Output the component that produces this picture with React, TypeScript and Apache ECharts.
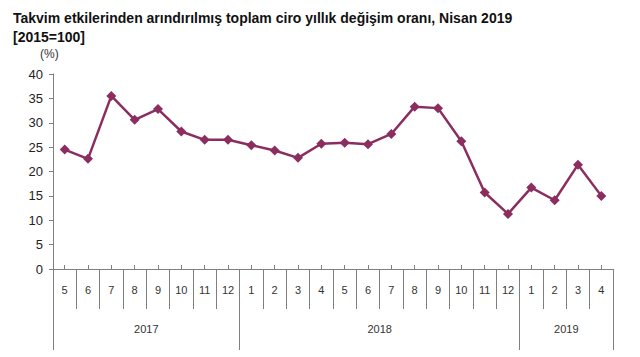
import React, { useEffect, useRef } from "react";
import * as echarts from "echarts";

const titleText = "Takvim etkilerinden arındırılmış toplam ciro yıllık değişim oranı, Nisan 2019";
const subtitleText = "[2015=100]";
const unitText = "(%)";

const months = ["5","6","7","8","9","10","11","12","1","2","3","4","5","6","7","8","9","10","11","12","1","2","3","4"];
const values = [24.5, 22.6, 35.5, 30.6, 32.8, 28.2, 26.5, 26.5, 25.4, 24.3, 22.8, 25.7, 25.9, 25.6, 27.7, 33.3, 33.0, 26.2, 15.7, 11.3, 16.7, 14.1, 21.4, 15.0];
const years = ["2017", "2018", "2019"];
const yearMonthCounts = [8, 12, 4];

const FONT = "'Liberation Sans', Arial, sans-serif";
const AXIS_COLOR = "#7f7f7f";
const LINE_COLOR = "#8C2D60";

export default function App() {
  const ref = useRef<HTMLDivElement>(null);

  useEffect(() => {
    if (!ref.current) return;
    const chart = echarts.init(ref.current, null, { renderer: "svg" });

    const boundaries: number[] = [0];
    const mids: number[] = [];
    let acc = 0;
    yearMonthCounts.forEach((c) => {
      mids.push(acc + c / 2);
      acc += c;
      boundaries.push(acc);
    });
    const total = acc;

    chart.setOption({
      animation: false,
      backgroundColor: "#ffffff",
      title: [
        {
          text: titleText + "\n" + subtitleText,
          left: 8,
          top: 3,
          textStyle: { fontFamily: FONT, fontSize: 14, fontWeight: "bold", color: "#111", lineHeight: 19 },
        },
        {
          text: unitText,
          left: 35,
          top: 43,
          textStyle: { fontFamily: FONT, fontSize: 12, fontWeight: "normal", color: "#333" },
        },
      ],
      grid: { left: 53, right: 27, top: 74, bottom: 88, containLabel: false },
      xAxis: [
        {
          type: "category",
          data: months,
          boundaryGap: true,
          position: "bottom",
          axisLine: { show: true, lineStyle: { color: AXIS_COLOR, width: 1 } },
          axisTick: { show: true, inside: true, alignWithLabel: true, length: 4, lineStyle: { color: AXIS_COLOR } },
          axisLabel: { show: true, interval: 0, margin: 15, fontFamily: FONT, fontSize: 11, color: "#333" },
          splitLine: { show: false },
        },
        {
          type: "category",
          data: months,
          boundaryGap: true,
          position: "bottom",
          axisLine: { show: false },
          axisTick: { show: true, inside: false, interval: 0, length: 40, lineStyle: { color: AXIS_COLOR } },
          axisLabel: { show: false },
          splitLine: { show: false },
        },
        {
          type: "value",
          min: 0,
          max: total,
          position: "bottom",
          axisLine: { show: false },
          axisTick: { show: true, inside: false, length: 81, customValues: boundaries, lineStyle: { color: AXIS_COLOR } },
          axisLabel: {
            show: true,
            customValues: mids,
            margin: 54,
            fontFamily: FONT,
            fontSize: 11,
            color: "#333",
            formatter: (v: number) => {
              const i = mids.findIndex((m) => Math.abs(m - v) < 1e-6);
              return i >= 0 ? years[i] : "";
            },
          },
          splitLine: { show: false },
        },
      ],
      yAxis: {
        type: "value",
        min: 0,
        max: 40,
        interval: 5,
        axisLine: { show: true, lineStyle: { color: AXIS_COLOR, width: 1 } },
        axisTick: { show: true, inside: false, length: 4, lineStyle: { color: AXIS_COLOR } },
        axisLabel: { margin: 10, fontFamily: FONT, fontSize: 13, color: "#222" },
        splitLine: { show: false },
      },
      series: [
        {
          type: "line",
          data: values,
          xAxisIndex: 0,
          yAxisIndex: 0,
          symbol: "diamond",
          symbolSize: 10,
          lineStyle: { color: LINE_COLOR, width: 2.5 },
          itemStyle: { color: LINE_COLOR },
        },
      ],
    });

    return () => chart.dispose();
  }, []);

  return <div ref={ref} style={{ width: 640, height: 357, position: "absolute", left: 0, top: 0 }} />;
}
